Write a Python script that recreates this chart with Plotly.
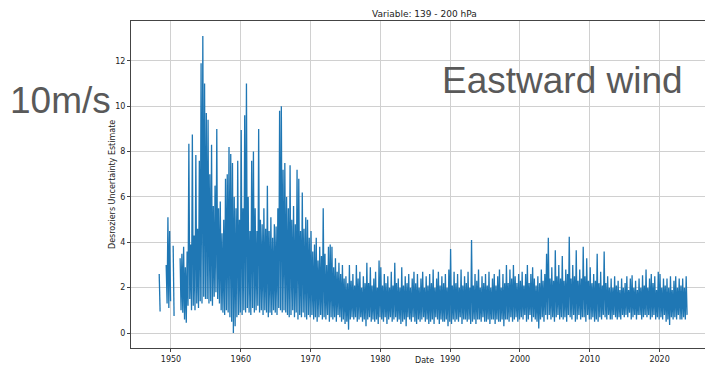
import plotly.graph_objects as go

# Desroziers uncertainty, eastward wind, 139-200 hPa.
# One (upper, lower) pair per quarter year, starting 1948.0; None = no data.
start_year = 1948
step = 0.25

upper = [
    None, 2.6, None, None,    # 1948
    None, 3.0, 5.1, 4.5,      # 1949
    None, 3.85, None, None,   # 1950
    None, 3.3, 3.5, 3.8,      # 1951
    2.9, 3.6, 8.35, 3.9,      # 1952
    8.75, 4.3, 7.85, 4.6,     # 1953
    7.6, 11.9, 13.1, 11.0,    # 1954
    9.7, 9.4, 7.0, 8.3,       # 1955
    5.6, 6.5, 9.0, 5.5,       # 1956
    5.8, 4.4, 5.0, 6.8,       # 1957
    7.0, 8.2, 7.9, 7.5,       # 1958
    6.0, 5.5, 7.6, 5.0,       # 1959
    8.95, 5.5, 9.6, 11.0,     # 1960
    6.0, 4.5, 7.6, 8.0,       # 1961
    5.5, 4.5, 9.0, 5.0,       # 1962
    4.8, 5.5, 4.6, 6.5,       # 1963
    4.5, 5.1, 4.2, 4.8,       # 1964
    4.7, 5.5, 9.8, 10.0,      # 1965
    7.2, 7.5, 6.0, 5.5,       # 1966
    7.4, 5.0, 5.6, 4.8,       # 1967
    7.2, 6.8, 4.5, 6.2,       # 1968
    4.6, 5.1, 5.0, 4.2,       # 1969
    4.5, 3.6, 3.9, 4.2,       # 1970
    3.2, 3.8, 3.4, 5.5,       # 1971
    3.5, 3.0, 3.8, 3.9,       # 1972
    3.8, 2.9, 3.3, 2.7,       # 1973
    3.1, 2.6, 3.0, 2.4,       # 1974
    2.5, 2.2, 3.0, 2.3,       # 1975
    2.6, 2.1, 3.0, 2.4,       # 1976
    2.7, 2.0, 2.5, 2.2,       # 1977
    3.1, 2.2, 2.9, 2.1,       # 1978
    2.4, 2.7, 2.0, 3.2,       # 1979
    2.9, 2.1, 2.6, 2.2,       # 1980
    2.5, 2.0, 2.7, 2.1,       # 1981
    3.1, 2.2, 2.4, 2.0,       # 1982
    2.9, 2.1, 2.5, 2.2,       # 1983
    2.6, 2.0, 2.4, 2.7,       # 1984
    2.2, 2.6, 2.0, 2.4,       # 1985
    2.7, 2.0, 2.5, 2.1,       # 1986
    2.6, 2.2, 2.8, 2.0,       # 1987
    2.4, 2.7, 2.1, 2.5,       # 1988
    2.2, 2.6, 2.0, 2.8,       # 1989
    3.7, 2.1, 2.7, 2.2,       # 1990
    2.6, 2.0, 2.8, 2.1,       # 1991
    2.5, 2.2, 2.7, 2.0,       # 1992
    4.1, 2.1, 2.6, 2.3,       # 1993
    2.8, 2.0, 2.5, 2.2,       # 1994
    2.6, 2.1, 2.7, 2.0,       # 1995
    2.4, 2.6, 2.1, 2.5,       # 1996
    2.8, 2.0, 2.6, 2.2,       # 1997
    3.0, 2.2, 2.8, 2.4,       # 1998
    3.0, 2.5, 2.2, 2.6,       # 1999
    2.3, 2.7, 2.1, 2.6,       # 2000
    3.0, 2.2, 2.6, 2.9,       # 2001
    2.4, 2.1, 2.5, 2.2,       # 2002
    2.8, 2.3, 2.6, 3.5,       # 2003
    4.2, 2.4, 2.9, 2.3,       # 2004
    3.65, 2.5, 3.0, 2.4,      # 2005
    3.4, 2.3, 2.8, 2.6,       # 2006
    4.25, 2.4, 3.0, 2.5,      # 2007
    3.65, 2.3, 2.8, 2.4,      # 2008
    3.8, 2.5, 3.3, 2.3,       # 2009
    2.9, 2.2, 2.6, 2.3,       # 2010
    3.5, 2.2, 2.7, 2.1,       # 2011
    3.6, 2.2, 2.5, 2.0,       # 2012
    2.4, 2.0, 2.5, 2.1,       # 2013
    2.3, 1.9, 2.4, 2.0,       # 2014
    2.2, 2.5, 1.9, 2.4,       # 2015
    2.55, 2.0, 2.3, 1.9,      # 2016
    2.4, 2.0, 2.55, 2.1,      # 2017
    2.8, 2.0, 2.4, 2.6,       # 2018
    2.2, 2.5, 1.9, 2.7,       # 2019
    2.6, 2.0, 2.4, 2.1,       # 2020
    2.4, 2.0, 2.5, 1.9,       # 2021
    2.3, 2.5, 2.0, 2.4,       # 2022
    2.1, 2.4, 2.0, 2.5,       # 2023
]

lower = [
    None, 0.95, None, None,   # 1948
    None, 1.3, 1.1, 1.4,      # 1949
    None, 0.75, None, None,   # 1950
    None, 1.0, 0.9, 0.6,      # 1951
    0.45, 1.2, 1.5, 1.0,      # 1952
    1.2, 1.0, 1.3, 1.1,       # 1953
    1.4, 1.3, 1.6, 1.5,       # 1954
    1.5, 1.3, 1.4, 1.2,       # 1955
    1.6, 1.8, 1.5, 1.3,       # 1956
    1.0, 0.9, 0.8, 1.0,       # 1957
    0.9, 0.7, 0.5, 0.0,       # 1958
    0.3, 0.7, 0.8, 0.9,       # 1959
    0.8, 1.0, 0.9, 1.1,       # 1960
    0.9, 0.8, 1.1, 0.9,       # 1961
    1.0, 1.2, 0.9, 1.0,       # 1962
    0.8, 1.0, 0.9, 0.7,       # 1963
    0.9, 0.8, 1.0, 0.9,       # 1964
    0.8, 1.1, 1.0, 0.9,       # 1965
    1.0, 0.9, 0.8, 0.7,       # 1966
    0.8, 1.0, 0.7, 0.9,       # 1967
    0.6, 0.8, 0.7, 0.9,       # 1968
    0.7, 0.6, 0.8, 0.7,       # 1969
    0.8, 0.6, 0.7, 0.5,       # 1970
    0.7, 0.8, 0.6, 0.7,       # 1971
    0.6, 0.8, 0.5, 0.7,       # 1972
    0.6, 0.7, 0.5, 0.8,       # 1973
    0.7, 0.5, 0.6, 0.4,       # 1974
    0.5, 0.15, 0.6, 0.7,      # 1975
    0.6, 0.7, 0.5, 0.6,       # 1976
    0.7, 0.5, 0.6, 0.3,       # 1977
    0.6, 0.7, 0.5, 0.6,       # 1978
    0.5, 0.6, 0.4, 0.7,       # 1979
    0.6, 0.5, 0.7, 0.4,       # 1980
    0.6, 0.7, 0.5, 0.6,       # 1981
    0.7, 0.5, 0.6, 0.4,       # 1982
    0.5, 0.6, 0.3, 0.7,       # 1983
    0.6, 0.5, 0.7, 0.5,       # 1984
    0.4, 0.6, 0.5, 0.6,       # 1985
    0.7, 0.5, 0.6, 0.4,       # 1986
    0.5, 0.6, 0.4, 0.7,       # 1987
    0.6, 0.4, 0.6, 0.5,       # 1988
    0.5, 0.6, 0.3, 0.5,       # 1989
    0.4, 0.6, 0.5, 0.6,       # 1990
    0.5, 0.7, 0.4, 0.6,       # 1991
    0.6, 0.5, 0.6, 0.4,       # 1992
    0.5, 0.6, 0.4, 0.6,       # 1993
    0.6, 0.5, 0.7, 0.5,       # 1994
    0.5, 0.6, 0.4, 0.6,       # 1995
    0.6, 0.4, 0.6, 0.5,       # 1996
    0.5, 0.6, 0.3, 0.6,       # 1997
    0.6, 0.5, 0.7, 0.5,       # 1998
    0.6, 0.7, 0.5, 0.6,       # 1999
    0.7, 0.6, 0.8, 0.5,       # 2000
    0.6, 0.8, 0.5, 0.7,       # 2001
    0.6, 0.5, 0.2, 0.6,       # 2002
    0.7, 0.5, 0.8, 0.6,       # 2003
    0.8, 0.6, 0.7, 0.5,       # 2004
    0.7, 0.8, 0.6, 0.7,       # 2005
    0.6, 0.7, 0.5, 0.8,       # 2006
    0.7, 0.6, 0.8, 0.5,       # 2007
    0.6, 0.8, 0.6, 0.7,       # 2008
    0.7, 0.5, 0.8, 0.6,       # 2009
    0.6, 0.7, 0.5, 0.6,       # 2010
    0.5, 0.7, 0.6, 0.8,       # 2011
    0.7, 0.6, 0.8, 0.6,       # 2012
    0.6, 0.8, 0.7, 0.6,       # 2013
    0.7, 0.6, 0.8, 0.7,       # 2014
    0.8, 0.7, 0.9, 0.6,       # 2015
    0.7, 0.8, 0.6, 0.8,       # 2016
    0.8, 0.6, 0.7, 0.8,       # 2017
    0.7, 0.8, 0.6, 0.7,       # 2018
    0.8, 0.6, 0.7, 0.6,       # 2019
    0.7, 0.6, 0.8, 0.5,       # 2020
    0.6, 0.35, 0.7, 0.6,      # 2021
    0.7, 0.6, 0.8, 0.6,       # 2022
    0.6, 0.7, 0.6, 0.8,       # 2023
]

x_ticks = [1950, 1960, 1970, 1980, 1990, 2000, 2010, 2020]
y_ticks = [0, 2, 4, 6, 8, 10, 12]

# zigzag between the upper and lower value of each quarter
xs, ys = [], []
for i, (hi, lo) in enumerate(zip(upper, lower)):
    t = start_year + i * step
    if hi is None:
        xs.append(t)
        ys.append(None)
        continue
    xs += [t + 0.06, t + 0.19]
    ys += [hi, lo]

fig = go.Figure(go.Scatter(x=xs, y=ys, mode="lines",
                           line=dict(color="#1f77b4", width=1.3),
                           connectgaps=False, hoverinfo="skip"))

# the page body has an 8px margin, so the figure is drawn 8px up and left
# of where the plot area should land on the page; the right side of the
# axes runs past the window edge, as in the original crop
tickfont = dict(family="DejaVu Sans", size=8, color="#222")
fig.update_layout(
    width=713, height=366,
    margin=dict(l=123, r=0, t=13, b=26, autoexpand=False),
    paper_bgcolor="white", plot_bgcolor="white",
    showlegend=False,
    font=dict(family="DejaVu Sans"),
    xaxis=dict(range=[1944.27, 2028.8], tickvals=x_ticks, ticks="outside",
               ticklen=3, tickcolor="#444", tickfont=tickfont,
               showgrid=True, gridcolor="#d0d0d0", gridwidth=1,
               showline=True, linecolor="#444", linewidth=1, mirror=True,
               zeroline=False, automargin=False),
    yaxis=dict(range=[-0.66, 13.76], tickvals=y_ticks, ticks="outside",
               ticklen=3, tickcolor="#444", tickfont=tickfont,
               showgrid=True, gridcolor="#d0d0d0", gridwidth=1,
               showline=True, linecolor="#444", linewidth=1,
               zeroline=False, automargin=False),
)

# texts placed in page pixels relative to the plot area (131..721, 21..348)
plot_w, plot_h = 721 - 131, 348 - 21


def px(xp):
    return (xp - 131) / plot_w


def py(yp):
    return (348 - yp) / plot_h


def label(text, x, y, size, color="#222", family="DejaVu Sans",
          xanchor="center", angle=0):
    fig.add_annotation(text=text, x=px(x), y=py(y), xref="paper", yref="paper",
                       showarrow=False, textangle=angle, xanchor=xanchor,
                       yanchor="middle",
                       font=dict(family=family, size=size, color=color))


label("Variable: 139 - 200 hPa", 424, 14, 9)
label("Desroziers Uncertainty Estimate", 113, 185, 8, angle=-90)
label("Date", 424, 360, 8)
label("10m/s", 8, 100, 37, color="#595959", family="Liberation Sans",
      xanchor="left")
label("Eastward wind", 440, 80, 37, color="#595959", family="Liberation Sans",
      xanchor="left")

fig.write_html("out.html")
